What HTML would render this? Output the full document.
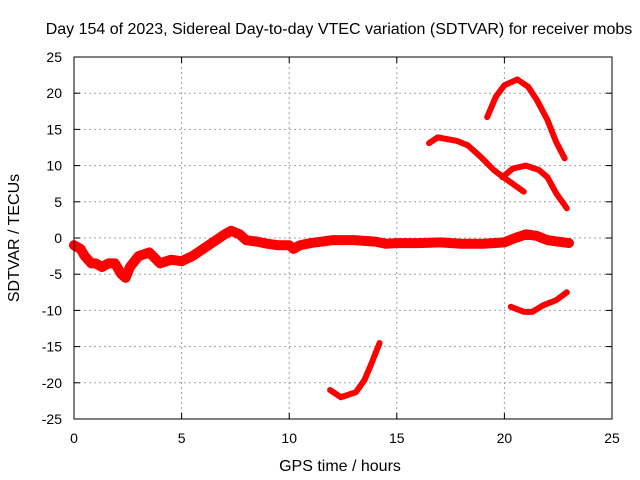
<!DOCTYPE html>
<html><head><meta charset="utf-8"><style>
body{margin:0;background:#fff}
svg{display:block;font-family:"Liberation Sans",sans-serif}
</style></head><body>
<svg id="chart" width="640" height="480" viewBox="0 0 640 480">
<text x="339" y="34" font-size="16" text-anchor="middle">Day 154 of 2023, Sidereal Day-to-day VTEC variation (SDTVAR) for receiver mobs</text>
<text x="340" y="471" font-size="16" text-anchor="middle">GPS time / hours</text>
<text x="19" y="238" font-size="16" text-anchor="middle" transform="rotate(-90 19 238)">SDTVAR / TECUs</text>
<g id="grid"></g><g id="marks"></g><g id="axes"></g>
</svg>
<script>
const xTicks=[0,5,10,15,20,25];
const yTicks=[25,20,15,10,5,0,-5,-10,-15,-20,-25];
const mainBand=[[0,-1],[0.3,-1.5],[0.5,-2.5],[0.8,-3.5],[1,-3.5],[1.3,-4],[1.6,-3.5],[1.9,-3.5],[2.2,-5],[2.4,-5.5],[2.6,-4],[3,-2.5],[3.5,-2],[4,-3.5],[4.5,-3],[5,-3.2],[5.5,-2.5],[6,-1.5],[6.5,-0.5],[7,0.5],[7.3,1],[7.7,0.5],[8,-0.3],[8.5,-0.5],[9,-0.8],[9.5,-1],[10,-1],[10.2,-1.5],[10.5,-1],[11,-0.7],[12,-0.3],[13,-0.3],[14,-0.5],[14.5,-0.8],[15,-0.7],[16,-0.7],[17,-0.6],[18,-0.8],[19,-0.8],[20,-0.6],[20.5,0],[21,0.5],[21.5,0.3],[22,-0.3],[23,-0.7]];
const topArc=[[19.2,16.7],[19.6,19.5],[20.0,21.1],[20.6,21.9],[21.1,20.9],[21.5,19.1],[22.0,16.3],[22.4,13.3],[22.8,11]];
const midArc1=[[16.5,13.1],[16.9,13.9],[17.8,13.4],[18.3,12.8],[18.9,11.2],[19.5,9.4],[20.0,8.3],[20.9,6.4]];
const midArc2=[[19.9,8.4],[20.4,9.6],[21.0,10],[21.6,9.4],[22.0,8.4],[22.4,6.2],[22.9,4.1]];
const negArc=[[20.3,-9.5],[20.9,-10.2],[21.3,-10.2],[21.8,-9.3],[22.4,-8.6],[22.9,-7.5]];
const lowArc=[[11.9,-21],[12.4,-22],[13.1,-21.3],[13.5,-19.6],[13.8,-17.5],[14.2,-14.5]];
const X0=74,X1=612,Y0=57,Y1=419;
const xs=h=>X0+(h-0)/25*(X1-X0);
const ys=v=>Y0+(25-v)/50*(Y1-Y0);
const NS="http://www.w3.org/2000/svg";
const grid=document.getElementById('grid'),marks=document.getElementById('marks'),axes=document.getElementById('axes');
function mk(t,a,p){const e=document.createElementNS(NS,t);for(const k in a)e.setAttribute(k,a[k]);p.appendChild(e);return e;}
xTicks.forEach(t=>{
 if(t>0&&t<25){const g=mk('line',{x1:xs(t),x2:xs(t),y1:Y0,y2:Y1,stroke:'#a0a0a0','stroke-dasharray':'2,3'},grid);
 
 }
 mk('line',{x1:xs(t),x2:xs(t),y1:Y1,y2:Y1-6,stroke:'#000'},axes);
 mk('line',{x1:xs(t),x2:xs(t),y1:Y0,y2:Y0+6,stroke:'#000'},axes);
 const l=mk('text',{x:xs(t),y:Y1+24,'font-size':14,'text-anchor':'middle'},axes);l.textContent=t;
 
 
});
yTicks.forEach(t=>{
 if(t<25&&t>-25){const g=mk('line',{x1:X0,x2:X1,y1:ys(t),y2:ys(t),stroke:'#a0a0a0','stroke-dasharray':'2,3'},grid);
 
 }
 mk('line',{x1:X0,x2:X0+6,y1:ys(t),y2:ys(t),stroke:'#000'},axes);
 mk('line',{x1:X1,x2:X1-6,y1:ys(t),y2:ys(t),stroke:'#000'},axes);
 const l=mk('text',{x:X0-12,y:ys(t)+5,'font-size':14,'text-anchor':'end'},axes);l.textContent=t;
 
 
});
const fr=mk('rect',{x:X0,y:Y0,width:X1-X0,height:Y1-Y0,fill:'none',stroke:'#000'},axes);


function series(d,w,name){
 const p=mk('polyline',{points:d.map(q=>xs(q[0])+','+ys(q[1])).join(' '),fill:'none',stroke:'#ff0000','stroke-width':w,'stroke-linejoin':'round','stroke-linecap':'round'},marks);
 
 
}
series(mainBand,10,'series-main-band');
series(topArc,6,'series-top-arc');
series(midArc1,6,'series-mid-arc-1');
series(midArc2,6,'series-mid-arc-2');
series(negArc,6,'series-negative-arc');
series(lowArc,6,'series-low-arc');
</script>
</body></html>
